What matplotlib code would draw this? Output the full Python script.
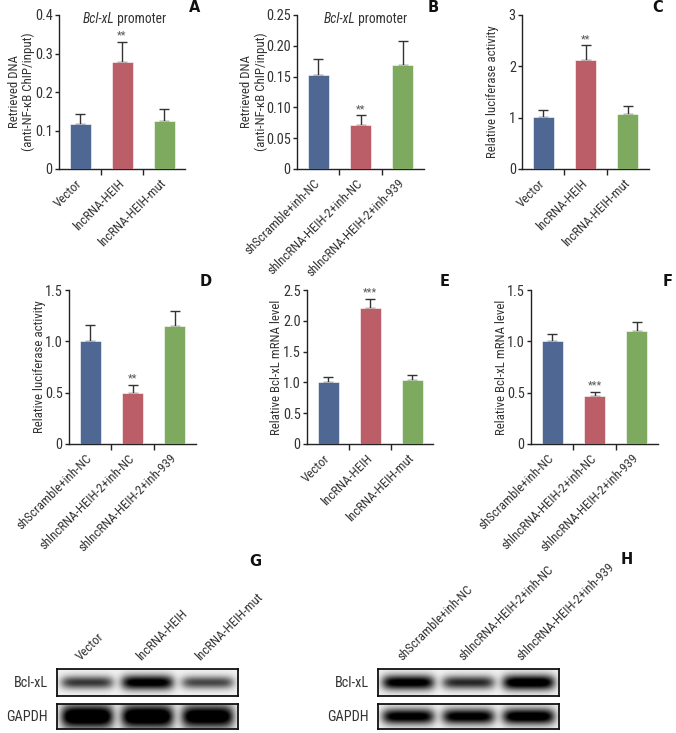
import numpy as np
import matplotlib
matplotlib.use("Agg")
import matplotlib.pyplot as plt
from matplotlib import transforms

# ---------------- CONFIG ----------------
W, H = 676, 733
COLORS = ["#4f6893", "#bc5e68", "#7daa5e"]
TEXT_C = "#333333"
# ----------------------------------------

# ---------------- DATA ----------------
over_groups = ["Vector", "lncRNA-HEIH", "lncRNA-HEIH-mut"]
knock_groups = ["shScramble+inh-NC", "shlncRNA-HEIH-2+inh-NC", "shlncRNA-HEIH-2+inh-939"]

chip_over = [0.118, 0.278, 0.125]
chip_over_err = [0.024, 0.052, 0.030]
chip_knock = [0.153, 0.071, 0.169]
chip_knock_err = [0.025, 0.016, 0.038]
luc_over = [1.01, 2.13, 1.07]
luc_over_err = [0.13, 0.28, 0.16]
luc_knock = [1.00, 0.50, 1.15]
luc_knock_err = [0.16, 0.075, 0.15]
mrna_over = [1.00, 2.20, 1.04]
mrna_over_err = [0.09, 0.15, 0.08]
mrna_knock = [1.00, 0.47, 1.10]
mrna_knock_err = [0.07, 0.04, 0.09]

stars_A = ["", "**", ""]
stars_B = ["", "**", ""]
stars_C = ["", "**", ""]
stars_D = ["", "**", ""]
stars_E = ["", "***", ""]
stars_F = ["", "***", ""]

ticks_A = [0, 0.1, 0.2, 0.3, 0.4]
ticklabels_A = ["0", "0.1", "0.2", "0.3", "0.4"]
ticks_B = [0, 0.05, 0.10, 0.15, 0.20, 0.25]
ticklabels_B = ["0", "0.05", "0.10", "0.15", "0.20", "0.25"]
ticks_C = [0, 1, 2, 3]
ticklabels_C = ["0", "1", "2", "3"]
ticks_D = [0, 0.5, 1.0, 1.5]
ticklabels_D = ["0", "0.5", "1.0", "1.5"]
ticks_E = [0, 0.5, 1.0, 1.5, 2.0, 2.5]
ticklabels_E = ["0", "0.5", "1.0", "1.5", "2.0", "2.5"]
ticks_F = [0, 0.5, 1.0, 1.5]
ticklabels_F = ["0", "0.5", "1.0", "1.5"]

chip_label = "Retrieved DNA\n(anti-NF-\u03baB ChIP/input)"
luc_label = "Relative luciferase activity"
mrna_label = "Relative Bcl-xL mRNA level"

# western blot band strength per lane (0 = none, 1 = saturated)
bcl_over = [0.60, 0.85, 0.55]
gapdh_over = [1.0, 1.0, 0.95]
bcl_knock = [0.85, 0.65, 0.90]
gapdh_knock = [0.85, 0.85, 0.90]
# ----------------------------------------

plt.rcParams["font.family"] = ["Roboto Condensed", "DejaVu Sans"]

fig = plt.figure(figsize=(W / 100, H / 100), dpi=100)

# size the condensed font from the length of one y label
_probe = fig.text(0, 0, luc_label, fontsize=10)
_w = _probe.get_window_extent(renderer=fig.canvas.get_renderer()).width
_probe.remove()
FS = 10 * 132 / _w


def px_axes(left, top, right, bottom):
    return fig.add_axes([left / W, 1 - bottom / H, (right - left) / W, (bottom - top) / H])


def bar_panel(box, groups, vals, errs, stars, ticks, ticklabels, ylabel, label_x, title_x=None):
    ax = px_axes(*box)
    x = np.arange(len(groups))
    ax.bar(x, vals, width=0.5, color=COLORS, edgecolor="white", linewidth=0.4, zorder=3)
    ax.errorbar(x, vals, yerr=[np.zeros(len(errs)), errs], fmt="none",
                ecolor="#333333", elinewidth=1.0, capsize=3.5, capthick=1.0, zorder=2)
    for xi, v, e, s in zip(x, vals, errs, stars):
        if s:
            ax.annotate(s, (xi, v + e), xytext=(0, 1), textcoords="offset points",
                        ha="center", va="bottom", fontsize=FS * 0.85, color="#555555")
    ax.set_xlim(-0.5, len(groups) - 0.5)
    ax.set_ylim(0, ticks[-1])
    ax.set_yticks(ticks)
    ax.set_yticklabels(ticklabels, fontsize=FS * 1.1, color=TEXT_C)
    # tick marks between groups, labels under bars
    ax.set_xticks(x[:-1] + 0.5)
    ax.set_xticklabels([])
    ax.set_xticks(x, minor=True)
    ax.set_xticklabels(groups, minor=True, rotation=45, ha="right", va="center",
                       rotation_mode="anchor", fontsize=FS, color=TEXT_C)
    shift = transforms.ScaledTranslation(8 / 100, 0, fig.dpi_scale_trans)
    for lab in ax.get_xticklabels(minor=True):
        lab.set_transform(lab.get_transform() + shift)
    ax.tick_params(axis="x", which="minor", length=0, pad=9)
    ax.tick_params(axis="x", which="major", length=4, width=1.0, color="#222222")
    ax.tick_params(axis="y", length=3, width=1.0, color="#222222", pad=1.5)
    for side in ["top", "right"]:
        ax.spines[side].set_visible(False)
    for side in ["left", "bottom"]:
        ax.spines[side].set_linewidth(1.0)
        ax.spines[side].set_color("#222222")
    ax.set_ylabel(ylabel, fontsize=FS, color=TEXT_C, linespacing=1.1)
    ax.yaxis.set_label_coords(label_x, 0.5)
    if title_x is not None:
        ax.text(title_x, 0.975, "Bcl-xL", style="italic", ha="right", va="center",
                fontsize=FS * 1.05, color=TEXT_C, transform=ax.transAxes)
        ax.text(title_x, 0.975, " promoter", ha="left", va="center",
                fontsize=FS * 1.05, color=TEXT_C, transform=ax.transAxes)
    return ax


bar_panel((59, 15, 185, 169), over_groups, chip_over, chip_over_err, stars_A,
          ticks_A, ticklabels_A, chip_label, -0.19, title_x=0.44)
bar_panel((297, 15, 424, 169), knock_groups, chip_knock, chip_knock_err, stars_B,
          ticks_B, ticklabels_B, chip_label, -0.23, title_x=0.46)
bar_panel((522, 15, 649, 169), over_groups, luc_over, luc_over_err, stars_C,
          ticks_C, ticklabels_C, luc_label, -0.18)
bar_panel((69, 290, 196, 444), knock_groups, luc_knock, luc_knock_err, stars_D,
          ticks_D, ticklabels_D, luc_label, -0.18)
bar_panel((307, 290, 433, 444), over_groups, mrna_over, mrna_over_err, stars_E,
          ticks_E, ticklabels_E, mrna_label, -0.19)
bar_panel((531, 290, 658, 444), knock_groups, mrna_knock, mrna_knock_err, stars_F,
          ticks_F, ticklabels_F, mrna_label, -0.18)


def blot(box, strengths, thick):
    ax = px_axes(*box)
    xs = np.linspace(0, 1, 360)
    ys = np.linspace(0, 1, 60)
    X, Y = np.meshgrid(xs, ys)
    dark = np.zeros_like(X)
    n = len(strengths)
    for i, s in enumerate(strengths):
        cx = (i + 0.5) / n
        sy = (0.16 + 0.14 * s) * thick
        dark += s * np.exp(-((X - cx) / 0.145) ** 6) * np.exp(-((Y - 0.5) / sy) ** 2)
    img = 0.95 - 0.95 * np.clip(dark * 1.3, 0, 1)
    ax.imshow(img, cmap="gray", vmin=0, vmax=1, aspect="auto", extent=(0, 1, 0, 1),
              interpolation="bilinear")
    ax.set_xticks([])
    ax.set_yticks([])
    for sp in ax.spines.values():
        sp.set_linewidth(1.3)
        sp.set_color("#111111")
    return ax


def blot_panel(left, right, lanes, bcl, gapdh, gapdh_thick, label_pos):
    blot((left, 669, right, 696), bcl, 1.0)
    blot((left, 704, right, 729), gapdh, gapdh_thick)
    fig.text((left - 9) / W, 1 - 683 / H, "Bcl-xL", ha="right", va="center",
             fontsize=FS * 1.1, color=TEXT_C)
    fig.text((left - 9) / W, 1 - 717 / H, "GAPDH", ha="right", va="center",
             fontsize=FS * 1.1, color=TEXT_C)
    for name, lx in zip(lanes, label_pos):
        fig.text(lx / W, 1 - 663 / H, name, rotation=45, ha="left", va="bottom",
                 rotation_mode="anchor", fontsize=FS, color=TEXT_C)


blot_panel(57, 238, over_groups, bcl_over, gapdh_over, 1.6, [83, 143, 202])
blot_panel(378, 559, knock_groups, bcl_knock, gapdh_knock, 1.15, [404, 465, 523])

letters = [("A", 195, 8), ("B", 433, 8), ("C", 658, 8),
           ("D", 206, 282), ("E", 445, 282), ("F", 668, 282),
           ("G", 255, 562), ("H", 627, 560)]
for t, lx, ly in letters:
    fig.text(lx / W, 1 - ly / H, t, ha="center", va="center", fontsize=10.5,
             fontweight="bold", family="DejaVu Sans", color="#111111")

fig.savefig("out.png", dpi=100)
